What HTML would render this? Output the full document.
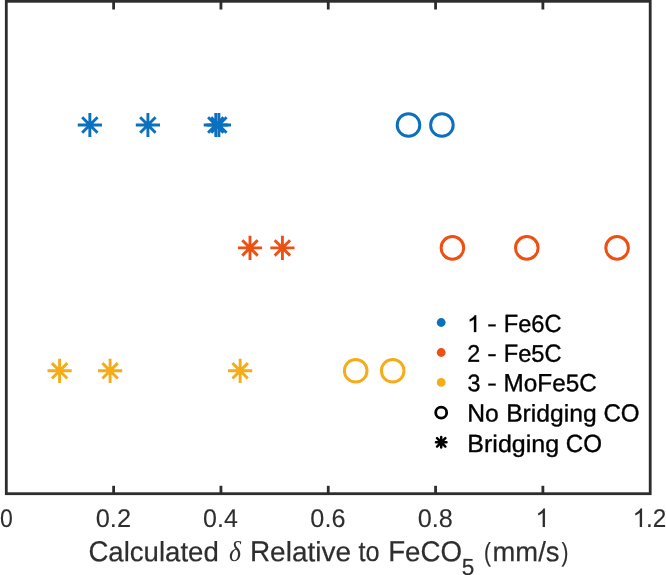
<!DOCTYPE html>
<html><head><meta charset="utf-8"><title>chart</title>
<style>
html,body{margin:0;padding:0;background:#fff;}
body{width:666px;height:575px;overflow:hidden;font-family:"Liberation Sans",sans-serif;}
svg{will-change:transform;display:block;position:absolute;left:0;top:0;}
text{font-family:"Liberation Sans",sans-serif;text-rendering:geometricPrecision;}
</style></head><body>
<svg width="666" height="575" viewBox="0 0 666 575">
<rect x="0" y="0" width="666" height="575" fill="#ffffff"/>
<g stroke="#2d2d2d" stroke-width="2.8" fill="none" stroke-linecap="butt">
<rect x="6.3" y="1.3" width="643.90" height="492.40"/>
<line x1="113.62" y1="493.7" x2="113.62" y2="485.80"/>
<line x1="113.62" y1="1.3" x2="113.62" y2="9.50"/>
<line x1="220.93" y1="493.7" x2="220.93" y2="485.80"/>
<line x1="220.93" y1="1.3" x2="220.93" y2="9.50"/>
<line x1="328.25" y1="493.7" x2="328.25" y2="485.80"/>
<line x1="328.25" y1="1.3" x2="328.25" y2="9.50"/>
<line x1="435.57" y1="493.7" x2="435.57" y2="485.80"/>
<line x1="435.57" y1="1.3" x2="435.57" y2="9.50"/>
<line x1="542.88" y1="493.7" x2="542.88" y2="485.80"/>
<line x1="542.88" y1="1.3" x2="542.88" y2="9.50"/>
</g>
<text transform="translate(0.00 527.00) rotate(0.03) scale(0.8989 1.000)" style="font-family:'Liberation Sans',sans-serif;font-size:25.6px;fill:#2e2e2e;font-kerning:none;stroke:#2e2e2e;stroke-width:0.1px;">0</text>
<text transform="translate(95.73 527.00) rotate(0.03) scale(0.9910 1.000)" style="font-family:'Liberation Sans',sans-serif;font-size:25.6px;fill:#2e2e2e;font-kerning:none;stroke:#2e2e2e;stroke-width:0.1px;">0.2</text>
<text transform="translate(203.06 527.00) rotate(0.03) scale(0.9752 1.000)" style="font-family:'Liberation Sans',sans-serif;font-size:25.6px;fill:#2e2e2e;font-kerning:none;stroke:#2e2e2e;stroke-width:0.1px;">0.4</text>
<text transform="translate(310.36 527.00) rotate(0.03) scale(0.9862 1.000)" style="font-family:'Liberation Sans',sans-serif;font-size:25.6px;fill:#2e2e2e;font-kerning:none;stroke:#2e2e2e;stroke-width:0.1px;">0.6</text>
<text transform="translate(417.68 527.00) rotate(0.03) scale(0.9858 1.000)" style="font-family:'Liberation Sans',sans-serif;font-size:25.6px;fill:#2e2e2e;font-kerning:none;stroke:#2e2e2e;stroke-width:0.1px;">0.8</text>
<path transform="translate(535.40 527.00) scale(0.01250 -0.01250)" d="M763 0H583V1147Q518 1085 412.5 1023Q307 961 223 930V1104Q374 1175 487 1276Q600 1377 647 1472H763Z" fill="#2e2e2e" stroke="#2e2e2e" stroke-width="8.0"/>
<path transform="translate(632.50 527.00) scale(0.01250 -0.01250)" d="M763 0H583V1147Q518 1085 412.5 1023Q307 961 223 930V1104Q374 1175 487 1276Q600 1377 647 1472H763Z" fill="#2e2e2e" stroke="#2e2e2e" stroke-width="8.0"/>
<text transform="translate(646.08 527.00) rotate(0.03) scale(0.9500 1.000)" style="font-family:'Liberation Sans',sans-serif;font-size:25.6px;fill:#2e2e2e;font-kerning:none;stroke:#2e2e2e;stroke-width:0.1px;">.2</text>
<path d="M77.75 125.00H101.95M89.85 112.90V137.10M82.15 117.30L97.55 132.70M82.15 132.70L97.55 117.30" stroke="#0b70be" stroke-width="2.9" fill="none"/>
<path d="M135.80 125.00H160.00M147.90 112.90V137.10M140.20 117.30L155.60 132.70M140.20 132.70L155.60 117.30" stroke="#0b70be" stroke-width="2.9" fill="none"/>
<path d="M203.70 125.00H227.90M215.80 112.90V137.10M208.10 117.30L223.50 132.70M208.10 132.70L223.50 117.30" stroke="#0b70be" stroke-width="2.9" fill="none"/>
<path d="M206.80 125.00H231.00M218.90 112.90V137.10M211.20 117.30L226.60 132.70M211.20 132.70L226.60 117.30" stroke="#0b70be" stroke-width="2.9" fill="none"/>
<circle cx="408.50" cy="125.00" r="11.3" stroke="#0b70be" stroke-width="3.0" fill="none"/>
<circle cx="441.90" cy="125.00" r="11.3" stroke="#0b70be" stroke-width="3.0" fill="none"/>
<path d="M237.90 247.90H262.10M250.00 235.80V260.00M242.30 240.20L257.70 255.60M242.30 255.60L257.70 240.20" stroke="#ed5012" stroke-width="2.9" fill="none"/>
<path d="M270.30 247.90H294.50M282.40 235.80V260.00M274.70 240.20L290.10 255.60M274.70 255.60L290.10 240.20" stroke="#ed5012" stroke-width="2.9" fill="none"/>
<circle cx="452.40" cy="247.90" r="11.3" stroke="#ed5012" stroke-width="3.0" fill="none"/>
<circle cx="526.80" cy="247.90" r="11.3" stroke="#ed5012" stroke-width="3.0" fill="none"/>
<circle cx="617.10" cy="247.90" r="11.3" stroke="#ed5012" stroke-width="3.0" fill="none"/>
<path d="M47.50 370.80H71.70M59.60 358.70V382.90M51.90 363.10L67.30 378.50M51.90 378.50L67.30 363.10" stroke="#f4ac18" stroke-width="2.9" fill="none"/>
<path d="M98.00 370.80H122.20M110.10 358.70V382.90M102.40 363.10L117.80 378.50M102.40 378.50L117.80 363.10" stroke="#f4ac18" stroke-width="2.9" fill="none"/>
<path d="M228.05 370.80H252.25M240.15 358.70V382.90M232.45 363.10L247.85 378.50M232.45 378.50L247.85 363.10" stroke="#f4ac18" stroke-width="2.9" fill="none"/>
<circle cx="355.70" cy="370.80" r="11.3" stroke="#f4ac18" stroke-width="3.0" fill="none"/>
<circle cx="392.70" cy="370.80" r="11.3" stroke="#f4ac18" stroke-width="3.0" fill="none"/>
<circle cx="441.2" cy="322.5" r="4.4" fill="#0b70be"/>
<circle cx="441.2" cy="352.5" r="4.4" fill="#ed5012"/>
<circle cx="441.2" cy="382.4" r="4.4" fill="#f4ac18"/>
<circle cx="441.20" cy="412.70" r="5.5" stroke="#000" stroke-width="2.8" fill="none"/>
<path d="M435.95 442.35H446.45M441.2 437.10V447.60M437.03 438.18L445.37 446.52M437.03 446.52L445.37 438.18" stroke="#000" stroke-width="2.5" stroke-linecap="round" fill="none"/>
<path transform="translate(467.20 331.90) scale(0.01172 -0.01125)" d="M763 0H583V1147Q518 1085 412.5 1023Q307 961 223 930V1104Q374 1175 487 1276Q600 1377 647 1472H763Z" fill="#000" stroke="#000" stroke-width="29.9"/>
<text transform="translate(487.23 331.70) rotate(0.03) scale(1.1947 1.000)" style="font-family:'Liberation Sans',sans-serif;font-size:24.0px;fill:#000;font-kerning:none;stroke:#000;stroke-width:0.35px;">-</text>
<text transform="translate(503.76 331.90) rotate(0.03) scale(0.9856 1.040)" style="font-family:'Liberation Sans',sans-serif;font-size:24.0px;fill:#000;font-kerning:none;stroke:#000;stroke-width:0.35px;">F</text>
<text transform="translate(518.21 331.90) rotate(0.03) scale(0.9856 1.000)" style="font-family:'Liberation Sans',sans-serif;font-size:24.0px;fill:#000;font-kerning:none;stroke:#000;stroke-width:0.35px;">e6</text>
<text transform="translate(544.52 331.90) rotate(0.03) scale(0.9856 1.040)" style="font-family:'Liberation Sans',sans-serif;font-size:24.0px;fill:#000;font-kerning:none;stroke:#000;stroke-width:0.35px;">C</text>
<text transform="translate(467.13 361.70) rotate(0.03) scale(0.9700 1.000)" style="font-family:'Liberation Sans',sans-serif;font-size:24.0px;fill:#000;font-kerning:none;stroke:#000;stroke-width:0.35px;">2</text>
<text transform="translate(487.23 361.50) rotate(0.03) scale(1.1947 1.000)" style="font-family:'Liberation Sans',sans-serif;font-size:24.0px;fill:#000;font-kerning:none;stroke:#000;stroke-width:0.35px;">-</text>
<text transform="translate(503.76 361.70) rotate(0.03) scale(0.9856 1.040)" style="font-family:'Liberation Sans',sans-serif;font-size:24.0px;fill:#000;font-kerning:none;stroke:#000;stroke-width:0.35px;">F</text>
<text transform="translate(518.21 361.70) rotate(0.03) scale(0.9856 1.000)" style="font-family:'Liberation Sans',sans-serif;font-size:24.0px;fill:#000;font-kerning:none;stroke:#000;stroke-width:0.35px;">e5</text>
<text transform="translate(544.52 361.70) rotate(0.03) scale(0.9856 1.040)" style="font-family:'Liberation Sans',sans-serif;font-size:24.0px;fill:#000;font-kerning:none;stroke:#000;stroke-width:0.35px;">C</text>
<text transform="translate(467.51 391.30) rotate(0.03) scale(0.9700 1.000)" style="font-family:'Liberation Sans',sans-serif;font-size:24.0px;fill:#000;font-kerning:none;stroke:#000;stroke-width:0.35px;">3</text>
<text transform="translate(487.23 391.10) rotate(0.03) scale(1.1947 1.000)" style="font-family:'Liberation Sans',sans-serif;font-size:24.0px;fill:#000;font-kerning:none;stroke:#000;stroke-width:0.35px;">-</text>
<text transform="translate(503.51 391.30) rotate(0.03) scale(1.0130 1.040)" style="font-family:'Liberation Sans',sans-serif;font-size:24.0px;fill:#000;font-kerning:none;stroke:#000;stroke-width:0.35px;">M</text>
<text transform="translate(523.76 391.30) rotate(0.03) scale(1.0130 1.000)" style="font-family:'Liberation Sans',sans-serif;font-size:24.0px;fill:#000;font-kerning:none;stroke:#000;stroke-width:0.35px;">o</text>
<text transform="translate(537.28 391.30) rotate(0.03) scale(1.0130 1.040)" style="font-family:'Liberation Sans',sans-serif;font-size:24.0px;fill:#000;font-kerning:none;stroke:#000;stroke-width:0.35px;">F</text>
<text transform="translate(552.13 391.30) rotate(0.03) scale(1.0130 1.000)" style="font-family:'Liberation Sans',sans-serif;font-size:24.0px;fill:#000;font-kerning:none;stroke:#000;stroke-width:0.35px;">e5</text>
<text transform="translate(579.17 391.30) rotate(0.03) scale(1.0130 1.040)" style="font-family:'Liberation Sans',sans-serif;font-size:24.0px;fill:#000;font-kerning:none;stroke:#000;stroke-width:0.35px;">C</text>
<text transform="translate(467.27 421.40) rotate(0.03) scale(1.0288 1.040)" style="font-family:'Liberation Sans',sans-serif;font-size:24.0px;fill:#000;font-kerning:none;stroke:#000;stroke-width:0.35px;">N</text>
<text transform="translate(485.11 421.40) rotate(0.03) scale(1.0288 1.000)" style="font-family:'Liberation Sans',sans-serif;font-size:24.0px;fill:#000;font-kerning:none;stroke:#000;stroke-width:0.35px;">o</text>
<text transform="translate(506.18 421.40) rotate(0.03) scale(1.0267 1.040)" style="font-family:'Liberation Sans',sans-serif;font-size:24.0px;fill:#000;font-kerning:none;stroke:#000;stroke-width:0.35px;">B</text>
<text transform="translate(522.61 421.40) rotate(0.03) scale(1.0267 1.000)" style="font-family:'Liberation Sans',sans-serif;font-size:24.0px;fill:#000;font-kerning:none;stroke:#000;stroke-width:0.35px;">ridging</text>
<text transform="translate(603.38 421.40) rotate(0.03) scale(1.0050 1.040)" style="font-family:'Liberation Sans',sans-serif;font-size:24.0px;fill:#000;font-kerning:none;stroke:#000;stroke-width:0.35px;">CO</text>
<text transform="translate(467.35 452.00) rotate(0.03) scale(1.0421 1.040)" style="font-family:'Liberation Sans',sans-serif;font-size:24.0px;fill:#000;font-kerning:none;stroke:#000;stroke-width:0.35px;">B</text>
<text transform="translate(484.03 452.00) rotate(0.03) scale(1.0421 1.000)" style="font-family:'Liberation Sans',sans-serif;font-size:24.0px;fill:#000;font-kerning:none;stroke:#000;stroke-width:0.35px;">ridging</text>
<text transform="translate(565.78 452.00) rotate(0.03) scale(1.0050 1.040)" style="font-family:'Liberation Sans',sans-serif;font-size:24.0px;fill:#000;font-kerning:none;stroke:#000;stroke-width:0.35px;">CO</text>
<text transform="translate(88.40 561.15) rotate(0.03) scale(0.9890 1.040)" style="font-family:'Liberation Sans',sans-serif;font-size:27.9px;fill:#2e2e2e;font-kerning:none;stroke:#2e2e2e;stroke-width:0.2px;">C</text>
<text transform="translate(108.33 561.15) rotate(0.03) scale(0.9890 1.000)" style="font-family:'Liberation Sans',sans-serif;font-size:27.9px;fill:#2e2e2e;font-kerning:none;stroke:#2e2e2e;stroke-width:0.2px;">alculated</text>
<text transform="translate(229.05 561.30) rotate(0.03) scale(0.8899 1.000)" style="font-family:'Liberation Serif',serif;font-size:28.8px;fill:#333333;font-kerning:none;font-style:italic;">δ</text>
<text transform="translate(249.90 561.15) rotate(0.03) scale(1.0034 1.040)" style="font-family:'Liberation Sans',sans-serif;font-size:27.9px;fill:#2e2e2e;font-kerning:none;stroke:#2e2e2e;stroke-width:0.2px;">R</text>
<text transform="translate(270.12 561.15) rotate(0.03) scale(1.0034 1.000)" style="font-family:'Liberation Sans',sans-serif;font-size:27.9px;fill:#2e2e2e;font-kerning:none;stroke:#2e2e2e;stroke-width:0.2px;">elative</text>
<text transform="translate(358.42 561.15) rotate(0.03) scale(0.9043 1.000)" style="font-family:'Liberation Sans',sans-serif;font-size:27.9px;fill:#2e2e2e;font-kerning:none;stroke:#2e2e2e;stroke-width:0.2px;">to</text>
<text transform="translate(388.13 561.15) rotate(0.03) scale(0.9917 1.040)" style="font-family:'Liberation Sans',sans-serif;font-size:27.9px;fill:#2e2e2e;font-kerning:none;stroke:#2e2e2e;stroke-width:0.2px;">F</text>
<text transform="translate(405.03 561.15) rotate(0.03) scale(0.9917 1.000)" style="font-family:'Liberation Sans',sans-serif;font-size:27.9px;fill:#2e2e2e;font-kerning:none;stroke:#2e2e2e;stroke-width:0.2px;">e</text>
<text transform="translate(420.42 561.15) rotate(0.03) scale(0.9917 1.040)" style="font-family:'Liberation Sans',sans-serif;font-size:27.9px;fill:#2e2e2e;font-kerning:none;stroke:#2e2e2e;stroke-width:0.2px;">CO</text>
<text transform="translate(461.70 574.90) rotate(0.03) scale(0.9686 1.000)" style="font-family:'Liberation Sans',sans-serif;font-size:23.3px;fill:#2e2e2e;font-kerning:none;stroke:#2e2e2e;stroke-width:0.2px;">5</text>
<text transform="translate(483.91 561.15) rotate(0.03) scale(0.7435 0.940)" style="font-family:'Liberation Sans',sans-serif;font-size:27.9px;fill:#2e2e2e;font-kerning:none;stroke:#2e2e2e;stroke-width:0.2px;">(</text>
<text transform="translate(492.48 561.15) rotate(0.03) scale(0.9828 1.000)" style="font-family:'Liberation Sans',sans-serif;font-size:27.9px;fill:#2e2e2e;font-kerning:none;stroke:#2e2e2e;stroke-width:0.2px;">mm/s</text>
<text transform="translate(561.48 561.15) rotate(0.03) scale(0.7435 0.940)" style="font-family:'Liberation Sans',sans-serif;font-size:27.9px;fill:#2e2e2e;font-kerning:none;stroke:#2e2e2e;stroke-width:0.2px;">)</text>
</svg></body></html>
